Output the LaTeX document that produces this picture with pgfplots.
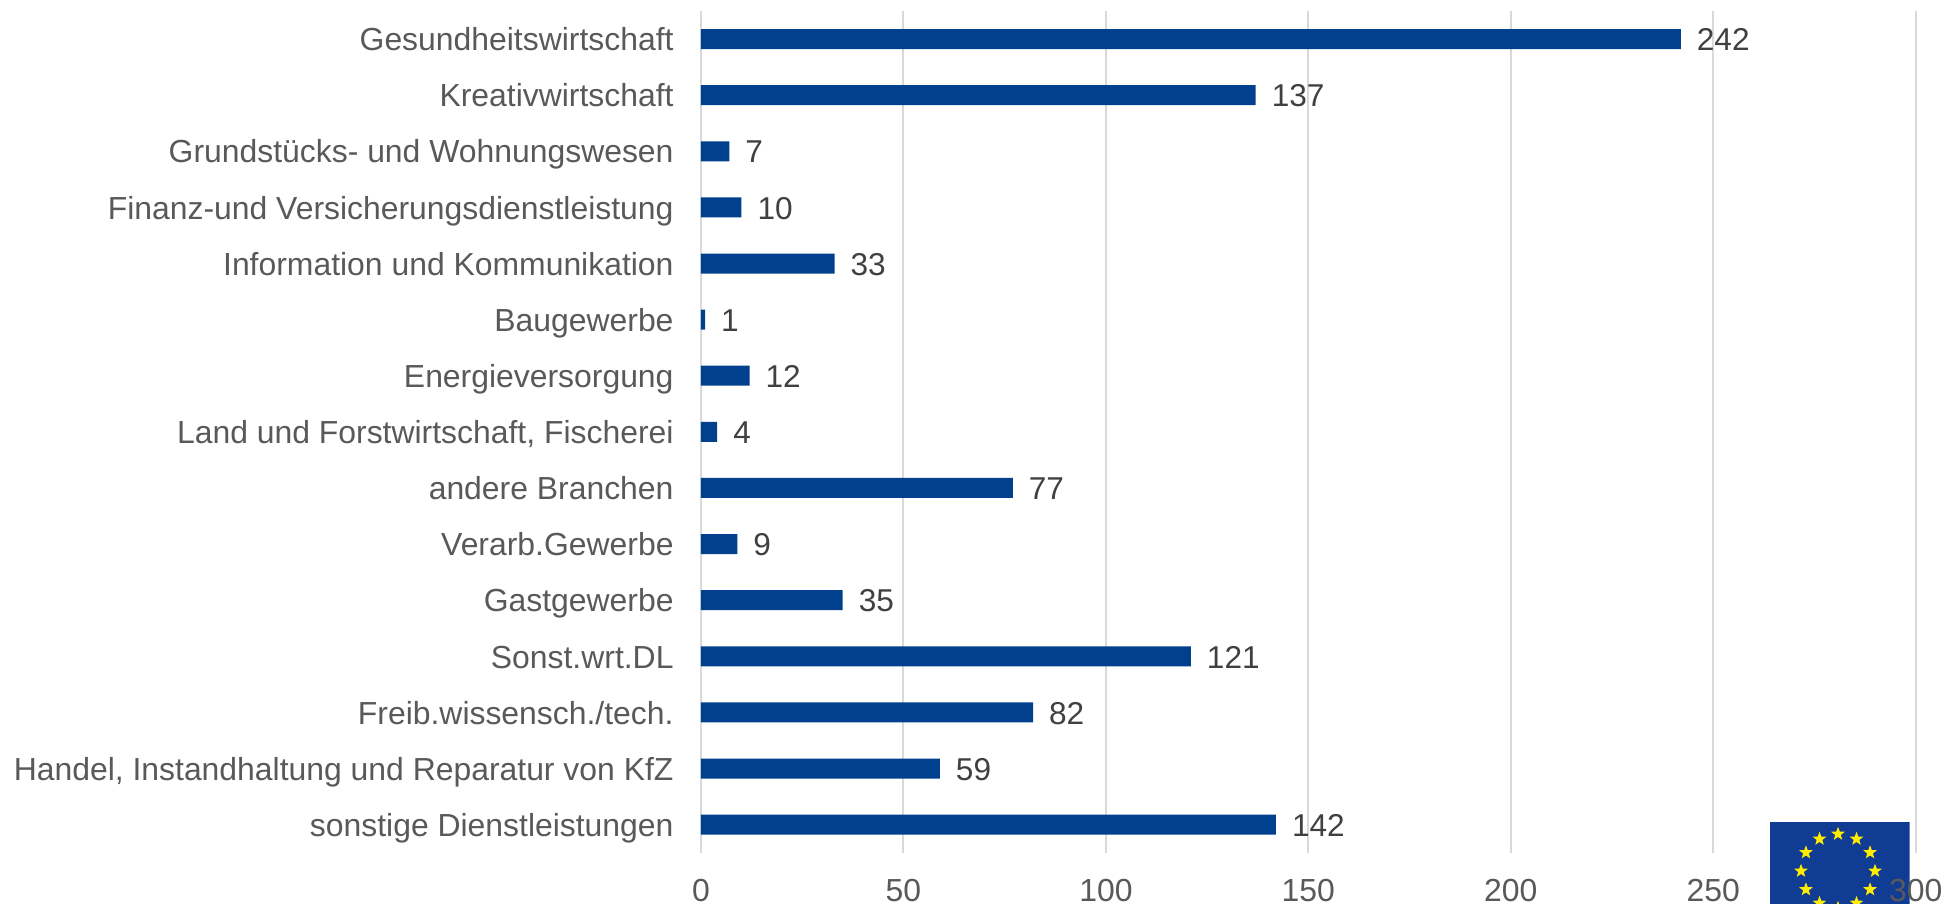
\documentclass[border=0pt]{standalone}
\usepackage{fontspec}
\setmainfont{Liberation Sans}
\usepackage{pgfplots}
\pgfplotsset{compat=1.18}
\usetikzlibrary{shapes.geometric}
\definecolor{barblue}{HTML}{00408C}
\definecolor{flagblue}{HTML}{113C93}
\definecolor{flagstar}{HTML}{FFED00}
\definecolor{gridgrey}{HTML}{D9D9D9}
\definecolor{ticktext}{HTML}{595959}
\definecolor{valtext}{HTML}{404040}
\begin{document}
\begin{tikzpicture}
% 1 px of the reference = 0.5pt, axis corner at (0,0)
\path[use as bounding box] (-350.5pt,-25.65pt) rectangle (621pt,426.35pt);
% EU flag in the corner, cut off by the page edge
\begin{scope}
  \clip (534.5pt,-25.65pt) rectangle (604.35pt,15.35pt);
  \fill[flagblue] (534.5pt,-30pt) rectangle (604.35pt,15.35pt);
  \foreach \a in {0,30,...,330}
    \node[star,star points=5,star point ratio=2.4,fill=flagstar,inner sep=0pt,minimum size=7.2pt]
      at ([shift={(568.5pt,-9.15pt)}]\a:18.5pt) {};
\end{scope}
\begin{axis}[
  at={(0pt,0pt)}, anchor=south west,
  scale only axis,
  width=607.35pt, height=420.85pt,
  xbar, bar width=10pt,
  y dir=reverse,
  xmin=0, xmax=300,
  ymin=-0.5, ymax=14.5,
  xtick={0,50,100,150,200,250,300},
  ytick={0,...,14},
  yticklabels={Gesundheitswirtschaft,Kreativwirtschaft,Grundstücks- und Wohnungswesen,Finanz-und Versicherungsdienstleistung,Information und Kommunikation,Baugewerbe,Energieversorgung,{Land und Forstwirtschaft, Fischerei},andere Branchen,Verarb.Gewerbe,Gastgewerbe,Sonst.wrt.DL,Freib.wissensch./tech.,{Handel, Instandhaltung und Reparatur von KfZ},sonstige Dienstleistungen},
  axis line style={draw=none},
  major tick length=0pt,
  xmajorgrids,
  grid style={gridgrey,line width=1pt},
  tick label style={font=\fontsize{15.95}{18}\selectfont,text=ticktext},
  /pgf/number format/assume math mode=true,
  yticklabel style={xshift=-10.2pt,text height=13pt,text depth=1.3pt},
  xticklabel style={inner ysep=0pt,yshift=-13.15pt},
  nodes near coords,
  nodes near coords style={font=\fontsize{15.8}{18}\selectfont,text=valtext,anchor=west,xshift=4.5pt,text height=13pt,text depth=1.3pt},
]
\addplot[draw=none,fill=barblue] coordinates {
  (242,0) (137,1) (7,2) (10,3) (33,4) (1,5) (12,6) (4,7)
  (77,8) (9,9) (35,10) (121,11) (82,12) (59,13) (142,14)};
\end{axis}
\end{tikzpicture}
\end{document}
